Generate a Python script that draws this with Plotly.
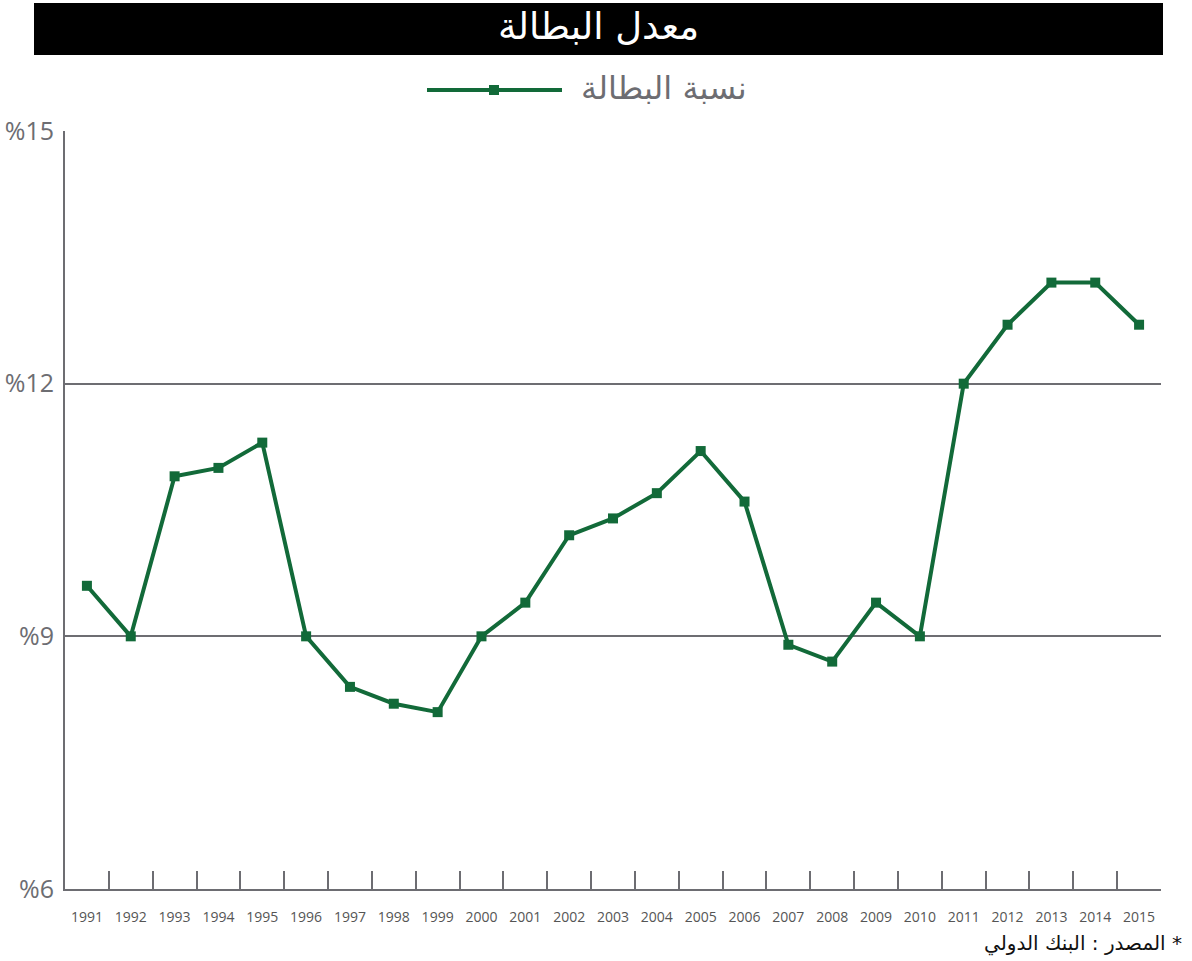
import plotly.graph_objects as go

years = [str(y) for y in range(1991, 2016)]
unemployment = [9.6, 9.0, 10.9, 11.0, 11.3, 9.0, 8.4, 8.2, 8.1, 9.0,
                9.4, 10.2, 10.4, 10.7, 11.2, 10.6, 8.9, 8.7, 9.4, 9.0,
                12.0, 12.7, 13.2, 13.2, 12.7]
y_ticks = [6, 9, 12, 15]
y_ticktext = ["%6", "%9", "%12", "%15"]
title_text = "معدل البطالة"
series_name = "نسبة البطالة"
source_text = "المصدر : البنك الدولي *"

GREEN = "#126a39"
GREY = "#6d6d72"

L, R, T, B = 65, 1161, 131, 889
W, H = R - L, B - T
def px(x):
    return (x - L) / W
def py(y):
    return (B - y) / H

fig = go.Figure()
fig.add_trace(go.Scatter(
    x=years, y=unemployment, mode="lines+markers", name=series_name,
    line=dict(color=GREEN, width=4),
    marker=dict(symbol="square", size=10, color=GREEN),
    showlegend=False, cliponaxis=False,
))

shapes = [
    dict(type="rect", xref="paper", yref="paper", x0=px(34), x1=px(1163),
         y0=py(55), y1=py(3), fillcolor="black", line=dict(width=0), layer="below"),
    dict(type="line", xref="paper", yref="paper", x0=px(427), x1=px(562),
         y0=py(90), y1=py(90), line=dict(color=GREEN, width=4)),
    dict(type="rect", xref="paper", yref="paper", x0=px(489), x1=px(499),
         y0=py(95), y1=py(85), fillcolor=GREEN, line=dict(width=0)),
]

annotations = [
    dict(text=title_text, xref="paper", yref="paper", x=px(598), y=py(26),
         showarrow=False, font=dict(family="DejaVu Sans", size=37, color="white"),
         xanchor="center", yanchor="middle"),
    dict(text=series_name, xref="paper", yref="paper", x=px(579), y=py(88),
         showarrow=False, font=dict(family="DejaVu Sans", size=32, color=GREY),
         xanchor="left", yanchor="middle"),
    dict(text=source_text, xref="paper", yref="paper", x=px(1184), y=py(943),
         showarrow=False, font=dict(family="DejaVu Sans", size=20, color="#111"),
         xanchor="right", yanchor="middle"),
]

fig.update_layout(
    width=1192, height=961,
    margin=dict(l=L, r=1192 - R, t=T, b=961 - B),
    paper_bgcolor="white", plot_bgcolor="white",
    shapes=shapes, annotations=annotations,
    xaxis=dict(
        type="category", range=[-0.5, 24.5], automargin=False,
        showgrid=False, showline=True, linecolor=GREY, linewidth=2,
        ticks="inside", tickson="boundaries", ticklen=18, tickwidth=2, tickcolor=GREY,
        tickfont=dict(family="Open Sans", size=14, color="#555"),
        tickangle=0, ticklabelstandoff=14,
        zeroline=False, fixedrange=True,
    ),
    yaxis=dict(
        range=[6, 15], tickvals=y_ticks, ticktext=y_ticktext, automargin=False,
        showgrid=True, gridcolor=GREY, gridwidth=1.5,
        showline=True, linecolor=GREY, linewidth=2,
        tickfont=dict(family="Open Sans", size=25, color=GREY),
        ticks="", zeroline=False, ticklabelstandoff=4,
    ),
)

fig.write_html("out.html")
